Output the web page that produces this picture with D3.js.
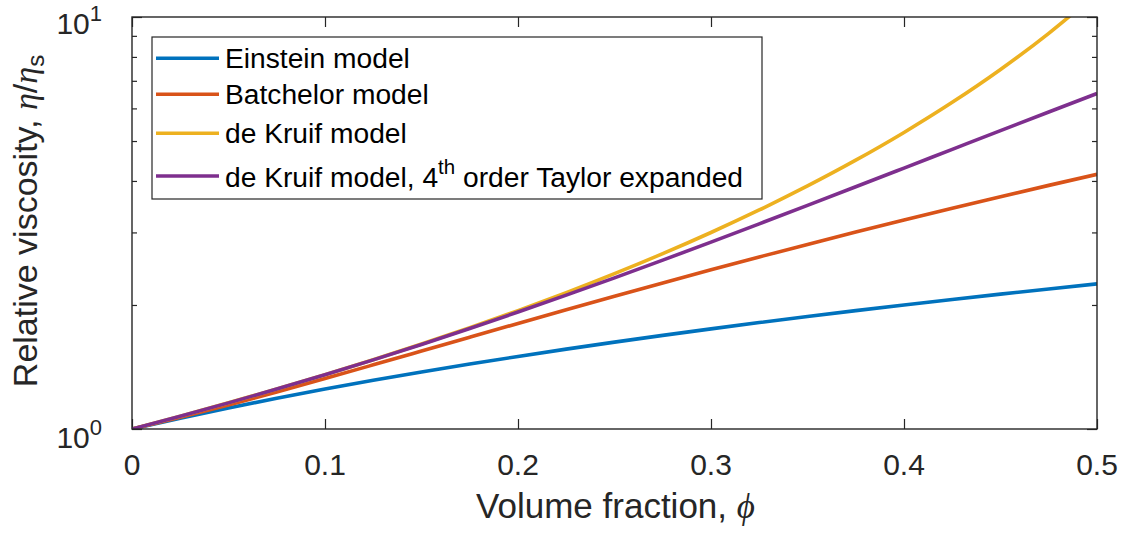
<!DOCTYPE html>
<html>
<head>
<meta charset="utf-8">
<script src="https://cdn.jsdelivr.net/npm/d3@7"></script>
<style>
  html, body { margin: 0; padding: 0; background: #fff; }
  svg { display: block; font-family: "Liberation Sans", Arial, Helvetica, sans-serif; }
</style>
</head>
<body>
<svg id="chart" width="1128" height="534"></svg>
<script>
// Volume fraction samples
const phi = [0, 0.025, 0.05, 0.075, 0.1, 0.125, 0.15, 0.175, 0.2, 0.225, 0.25,
             0.275, 0.3, 0.325, 0.35, 0.375, 0.4, 0.425, 0.45, 0.475, 0.5];

// Relative viscosity for each model
const einstein = [1, 1.0625, 1.125, 1.1875, 1.25, 1.3125, 1.375, 1.4375, 1.5, 1.5625, 1.625,
                  1.6875, 1.75, 1.8125, 1.875, 1.9375, 2.0, 2.0625, 2.125, 2.1875, 2.25];
const batchelor = [1, 1.0673, 1.144, 1.2303, 1.326, 1.4313, 1.546, 1.6703, 1.804, 1.9473, 2.1,
                   2.2623, 2.434, 2.6153, 2.806, 3.0063, 3.216, 3.4353, 3.664, 3.9023, 4.15];
const deKruif = [1, 1.0743, 1.1573, 1.2502, 1.3547, 1.473, 1.6075, 1.7612, 1.9381, 2.1431, 2.3823,
                 2.664, 2.9988, 3.4009, 3.8897, 4.4919, 5.2456, 6.2063, 7.4571, 9.1281, 11.431];
const deKruifTaylor = [1, 1.0743, 1.1572, 1.2501, 1.3543, 1.4717, 1.6041, 1.7536, 1.9223, 2.1128, 2.3277,
                       2.5697, 2.8418, 3.1473, 3.4894, 3.8717, 4.2979, 4.772, 5.298, 5.8802, 6.523];

const xTicks = [0, 0.1, 0.2, 0.3, 0.4, 0.5];
const xTickLabels = ["0", "0.1", "0.2", "0.3", "0.4", "0.5"];
const yMajor = [1, 10];
const yMinor = [2, 3, 4, 5, 6, 7, 8, 9];

const series = [
  { name: "einstein", values: einstein, color: "#0072BD" },
  { name: "batchelor", values: batchelor, color: "#D95319" },
  { name: "dekruif", values: deKruif, color: "#EDB120" },
  { name: "taylor", values: deKruifTaylor, color: "#7E2F8E" }
];

const axisColor = "#262626";
const plot = { left: 132, top: 17, right: 1097, bottom: 429 };

const svg = d3.select("#chart");
const x = d3.scaleLinear().domain([0, 0.5]).range([plot.left, plot.right]);
const y = d3.scaleLog().domain([1, 10]).range([plot.bottom, plot.top]);

// clip region for the curves
svg.append("defs").append("clipPath").attr("id", "plotClip")
  .append("rect")
  .attr("x", plot.left).attr("y", plot.top)
  .attr("width", plot.right - plot.left).attr("height", plot.bottom - plot.top);

// axes: ticks point inward, box drawn on all four sides
const majorLen = 10, minorLen = 5;
const bottomAxis = d3.axisBottom(x).tickValues(xTicks).tickSize(-majorLen).tickFormat("");
const topAxis = d3.axisTop(x).tickValues(xTicks).tickSize(-majorLen).tickFormat("");
const leftMajor = d3.axisLeft(y).tickValues(yMajor).tickSize(-majorLen).tickFormat("");
const rightMajor = d3.axisRight(y).tickValues(yMajor).tickSize(-majorLen).tickFormat("");
const leftMinor = d3.axisLeft(y).tickValues(yMinor).tickSize(-minorLen).tickFormat("");
const rightMinor = d3.axisRight(y).tickValues(yMinor).tickSize(-minorLen).tickFormat("");

function styleAxis(g) {
  g.select(".domain").remove();
  g.selectAll(".tick line").attr("stroke", axisColor).attr("stroke-width", 1.2);
}
svg.append("g").attr("transform", `translate(0,${plot.bottom})`).call(bottomAxis).call(styleAxis);
svg.append("g").attr("transform", `translate(0,${plot.top})`).call(topAxis).call(styleAxis);
svg.append("g").attr("transform", `translate(${plot.left},0)`).call(leftMajor).call(styleAxis);
svg.append("g").attr("transform", `translate(${plot.right},0)`).call(rightMajor).call(styleAxis);
svg.append("g").attr("transform", `translate(${plot.left},0)`).call(leftMinor).call(styleAxis);
svg.append("g").attr("transform", `translate(${plot.right},0)`).call(rightMinor).call(styleAxis);

// curves
const line = d3.line()
  .x((d, i) => x(phi[i]))
  .y(d => y(d))
  .curve(d3.curveMonotoneX);

const curves = svg.append("g").attr("clip-path", "url(#plotClip)");
series.forEach(s => {
  curves.append("path")
    .attr("d", line(s.values))
    .attr("fill", "none")
    .attr("stroke", s.color)
    .attr("stroke-width", 3.6)
    .attr("stroke-linejoin", "round");
});

// plot box
svg.append("rect")
  .attr("x", plot.left).attr("y", plot.top)
  .attr("width", plot.right - plot.left).attr("height", plot.bottom - plot.top)
  .attr("fill", "none").attr("stroke", axisColor).attr("stroke-width", 1.4);

// x tick labels
svg.append("g").selectAll("text")
  .data(xTicks)
  .join("text")
  .attr("x", d => x(d))
  .attr("y", 475)
  .attr("text-anchor", "middle")
  .attr("font-size", 30)
  .attr("fill", axisColor)
  .text((d, i) => xTickLabels[i]);

// y tick labels: 10^0, 10^1
const yLab = svg.append("g").selectAll("text")
  .data(yMajor)
  .join("text")
  .attr("x", 102)
  .attr("y", d => y(d) + (d === 1 ? 19 : 17))
  .attr("text-anchor", "end")
  .attr("font-size", 30)
  .attr("fill", axisColor);
yLab.append("tspan").text("10");
yLab.append("tspan")
  .attr("font-size", 22)
  .attr("dy", -13)
  .text(d => String(Math.round(Math.log10(d))));

// x axis label
const xl = svg.append("text")
  .attr("x", (plot.left + plot.right) / 2 + 1)
  .attr("y", 518)
  .attr("text-anchor", "middle")
  .attr("font-size", 35)
  .attr("fill", axisColor);
xl.append("tspan").text("Volume fraction, ");
xl.append("tspan").attr("font-family", "'Liberation Serif', 'DejaVu Serif', serif")
  .attr("font-style", "italic").text("\u03D5");

// y axis label
const yl = svg.append("text")
  .attr("transform", `translate(37,${(plot.top + plot.bottom) / 2 - 2}) rotate(-90)`)
  .attr("text-anchor", "middle")
  .attr("font-size", 34)
  .attr("fill", axisColor);
yl.append("tspan").text("Relative viscosity, ");
yl.append("tspan").attr("font-family", "'Liberation Serif', 'DejaVu Serif', serif")
  .attr("font-style", "italic").text("\u03B7");
yl.append("tspan").text("/");
yl.append("tspan").attr("font-family", "'Liberation Serif', 'DejaVu Serif', serif")
  .attr("font-style", "italic").text("\u03B7");
yl.append("tspan").attr("font-size", 24).attr("dy", 7).text("s");

// legend
const legendNames = ["Einstein model", "Batchelor model", "de Kruif model", "de Kruif model, 4"];
const legendRowY = [58.3, 94.3, 133.3, 176];
const legendBaseline = [67.5, 104, 143.3, 186.7];
const lg = svg.append("g");
lg.append("rect")
  .attr("x", 152).attr("y", 37)
  .attr("width", 762 - 152).attr("height", 199 - 37)
  .attr("fill", "#fff").attr("stroke", axisColor).attr("stroke-width", 1.2);
series.forEach((s, i) => {
  lg.append("line")
    .attr("x1", 156).attr("x2", 219)
    .attr("y1", legendRowY[i]).attr("y2", legendRowY[i])
    .attr("stroke", s.color).attr("stroke-width", 3.6);
  const t = lg.append("text")
    .attr("x", 225).attr("y", legendBaseline[i])
    .attr("font-size", 28.2)
    .attr("fill", "#000");
  t.append("tspan").text(legendNames[i]);
  if (i === 3) {
    t.append("tspan").attr("font-size", 20.5).attr("dy", -13).text("th");
    t.append("tspan").attr("dy", 13).text(" order Taylor expanded");
  }
});
</script>
</body>
</html>
